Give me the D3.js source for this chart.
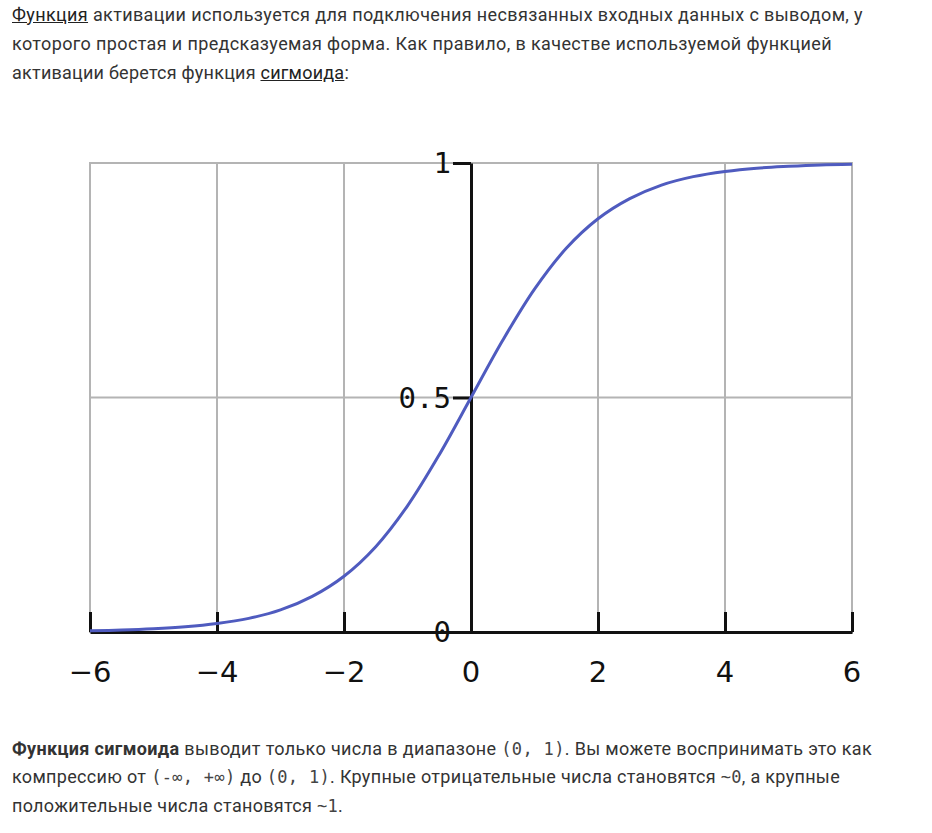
<!DOCTYPE html>
<html><head><meta charset="utf-8">
<script src="https://cdn.jsdelivr.net/npm/d3@7"></script>
<style>
body{margin:0;background:#fff;width:932px;height:833px;overflow:hidden;position:relative;font-family:Roboto,"Noto Sans",sans-serif;}
.ln{position:absolute;left:12px;font-size:18px;line-height:29px;color:#333;white-space:nowrap;}
.ln a{color:#222;text-decoration:underline;}
.mono{font-family:"DejaVu Sans Mono",monospace;font-size:17px;color:#444;}
svg{position:absolute;left:0;top:0;}
</style></head>
<body>
<div class="ln" data-w="851" style="top:0px"><a>Функция</a> активации используется для подключения несвязанных входных данных с выводом, у</div>
<div class="ln" data-w="820" style="top:29px">которого простая и предсказуемая форма. Как правило, в качестве используемой функцией</div>
<div class="ln" data-w="337" style="top:58px">активации берется функция <a>сигмоида</a>:</div>
<div class="ln" data-w="860" style="top:734px"><b>Функция сигмоида</b> выводит только числа в диапазоне <span class="mono">(0, 1)</span>. Вы можете воспринимать это как</div>
<div class="ln" data-w="828" style="top:762px">компрессию от <span class="mono">(-∞, +∞)</span> до <span class="mono">(0, 1)</span>. Крупные отрицательные числа становятся <span class="mono">~0</span>, а крупные</div>
<div class="ln" data-w="331" style="top:791px">положительные числа становятся <span class="mono">~1</span>.</div>
<svg id="chart" width="932" height="833"></svg>
<script>
const xTicks = [-6, -4, -2, 0, 2, 4, 6];
const yTicks = [0, 0.5, 1];
const yTickLabels = ["0", "0.5", "1"];
const curveX = [-6,-5.5,-5,-4.5,-4,-3.5,-3,-2.5,-2,-1.5,-1,-0.5,0,0.5,1,1.5,2,2.5,3,3.5,4,4.5,5,5.5,6];
const curveY = [0.0025,0.004,0.0067,0.011,0.018,0.029,0.047,0.076,0.119,0.182,0.269,0.378,0.5,0.622,0.731,0.818,0.881,0.924,0.953,0.971,0.982,0.989,0.993,0.996,0.9975];

// fit text line widths
document.querySelectorAll(".ln").forEach(el => {
  const target = +el.dataset.w;
  const w = el.getBoundingClientRect().width;
  const n = el.textContent.length;
  el.style.letterSpacing = ((target - w) / n) + "px";
});

const svg = d3.select("#chart");
const x = d3.scaleLinear().domain([-6, 6]).range([90, 852]);
const y = d3.scaleLinear().domain([0, 1]).range([632, 163]);

// grid
const grid = svg.append("g").attr("stroke", "#b4b4b4").attr("stroke-width", 2);
grid.selectAll("line.v").data(xTicks).join("line")
  .attr("x1", d => x(d)).attr("x2", d => x(d)).attr("y1", y(0)).attr("y2", y(1) - 1);
grid.selectAll("line.h").data(yTicks).join("line")
  .attr("x1", x(-6) - 1).attr("x2", x(6) + 1).attr("y1", d => y(d)).attr("y2", d => y(d));

// x axis (bottom)
const xAxis = d3.axisTop(x).tickValues(xTicks).tickSize(20).tickSizeOuter(0).tickFormat(() => "");
const gx = svg.append("g").attr("transform", `translate(0,${y(0)})`).call(xAxis);
gx.select(".domain").attr("stroke", "#111").attr("stroke-width", 3);
gx.selectAll(".tick line").attr("stroke", "#111").attr("stroke-width", 3);
svg.append("g").selectAll("text").data(xTicks).join("text")
  .attr("x", d => x(d)).attr("y", 682)
  .attr("text-anchor", "middle")
  .attr("font-family", "DejaVu Sans, sans-serif").attr("font-size", 29).attr("fill", "#111")
  .text(d => d < 0 ? "\u2212" + Math.abs(d) : String(d));

// y axis (at x = 0)
const yAxis = d3.axisLeft(y).tickValues(yTicks).tickSize(18).tickSizeOuter(0).tickFormat(() => "");
const gy = svg.append("g").attr("transform", `translate(${x(0)},0)`).call(yAxis);
gy.select(".domain").attr("stroke", "#111").attr("stroke-width", 3);
gy.selectAll(".tick line").attr("stroke", "#111").attr("stroke-width", 3);
svg.append("g").selectAll("text").data(yTicks).join("text")
  .attr("x", x(0) - 20).attr("y", d => y(d)).attr("dy", "0.36em")
  .attr("text-anchor", "end")
  .attr("font-family", "DejaVu Sans Mono, monospace").attr("font-size", 29).attr("fill", "#111")
  .text((d, i) => yTickLabels[i]);

// curve
const pts = curveX.map((v, i) => [v, curveY[i]]);
svg.append("path").datum(pts)
  .attr("fill", "none").attr("stroke", "#4f5bbf").attr("stroke-width", 3)
  .attr("d", d3.line().x(d => x(d[0])).y(d => y(d[1])).curve(d3.curveCatmullRom));
</script>
</body></html>
